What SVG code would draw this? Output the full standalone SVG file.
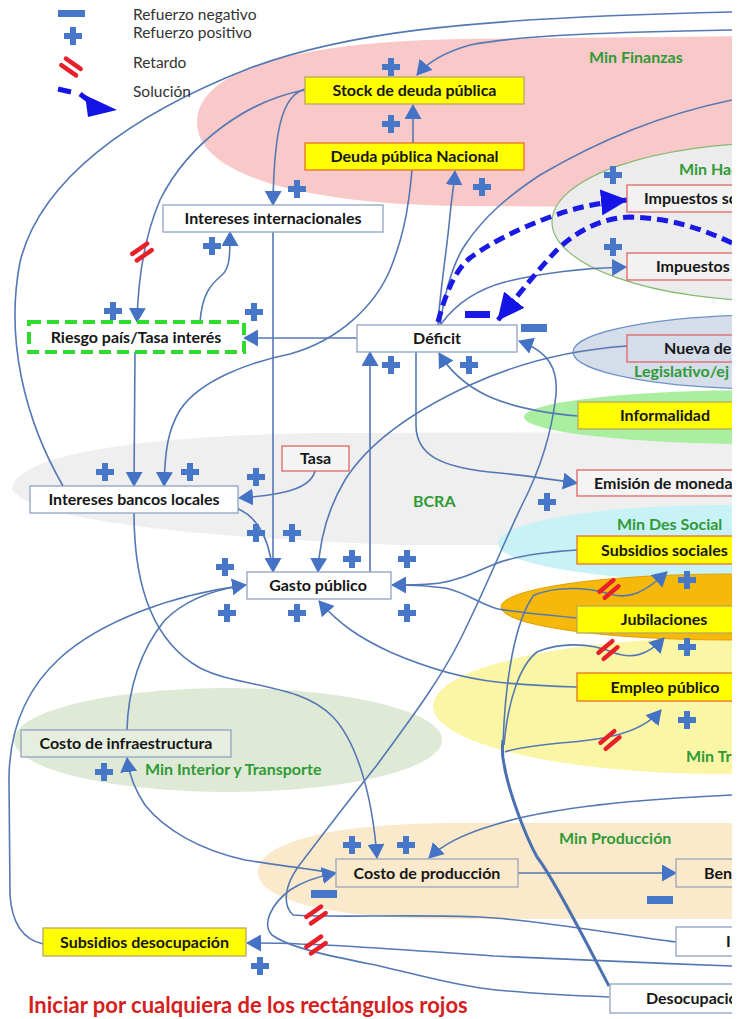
<svg xmlns="http://www.w3.org/2000/svg" xmlns:xlink="http://www.w3.org/1999/xlink" width="744" height="1019" viewBox="0 0 744 1019">
  <style>
    .ln{fill:none;stroke:#5478b4;stroke-width:1.6}
    .arr{marker-end:url(#ah)}
    .thick{fill:none;stroke:#4a70b0;stroke-width:3}
    .sol{fill:none;stroke:#1a1ae6;stroke-width:5;stroke-dasharray:11 6;marker-end:url(#solh)}
    .wbox{fill:#ffffff;stroke:#8fa2bf;stroke-width:1.3}
    .ybox{fill:#ffff00;stroke:#b9a860;stroke-width:1.3}
    .obox{fill:#ffff00;stroke:#e8702a;stroke-width:1.3}
    .rbox{fill:#ffffff;fill-opacity:.35;stroke:#e06464;stroke-width:1.3}
    .lbl{font-family:Lato,"Liberation Sans",sans-serif;font-weight:bold;font-size:16px;fill:#161616}
    .c{text-anchor:middle}
    .min{font-family:Lato,"Liberation Sans",sans-serif;font-weight:bold;font-size:16px;fill:#2f9a36}
    .leg{font-family:Lato,"Liberation Sans",sans-serif;font-size:15.5px;fill:#333}
    .ret{stroke:#e8202a;stroke-width:4.5;stroke-linecap:round}
  </style>
  <defs>
    <clipPath id="page"><rect x="0" y="0" width="732" height="1019"/></clipPath>
    <marker id="ah" viewBox="0 0 15 17" refX="14" refY="8.5" markerWidth="15" markerHeight="17" markerUnits="userSpaceOnUse" orient="auto">
      <path d="M0,0 L15,8.5 L0,17 z" fill="#4472c4"/>
    </marker>
    <marker id="solh" viewBox="0 0 27 26" refX="26" refY="13" markerWidth="27" markerHeight="26" markerUnits="userSpaceOnUse" orient="auto">
      <path d="M0,0 L27,13 L0,26 z" fill="#1414e6"/>
    </marker>
    <path id="plus" d="M-3,-9 h6 v6 h6 v6 h-6 v6 h-6 v-6 h-6 v-6 h6 z" fill="#4677c8"/>
    <rect id="minus" x="-13" y="-4" width="26" height="8" fill="#4677c8"/>
    <g id="ret" class="ret">
      <line x1="-9" y1="-4" x2="9" y2="-4"/>
      <line x1="-9" y1="4" x2="9" y2="4"/>
    </g>
  </defs>

  <g clip-path="url(#page)">
    <!-- ministry areas -->
    <g id="areas">
      <path d="M12,490 C12,455 140,436 320,433 L744,432 L744,545 L400,545 C230,538 40,525 12,490 Z" fill="#efefef"/>
      <path d="M197,122 C197,72 290,42 460,39 L744,36 L744,208 L460,206 C290,203 197,172 197,122 Z" fill="#f9c9c9"/>
      <ellipse cx="775" cy="222" rx="223" ry="79" fill="#ececec" stroke="#86b870" stroke-width="1.2"/>
      <ellipse cx="770" cy="352" rx="197" ry="37" fill="#d5dcea" stroke="#6d93c6" stroke-width="1.2"/>
      <ellipse cx="760" cy="417" rx="236" ry="27" fill="#a9ef9f"/>
      <ellipse cx="720" cy="543" rx="222" ry="38" fill="#c9f2f7"/>
      <ellipse cx="720" cy="706" rx="287" ry="68" fill="#fbf6a6"/>
      <ellipse cx="730" cy="607" rx="229" ry="33" fill="#f6b90a" stroke="#e0a000" stroke-width="1"/>
      <ellipse cx="228" cy="740" rx="214" ry="52" fill="#dfead6"/>
      <path d="M258,872 C258,845 320,824 450,823 L744,823 L744,919 L450,919 C320,918 258,898 258,872 Z" fill="#fbe9cb"/>
    </g>

    <!-- area labels -->
    <g id="area-labels">
      <text class="min" x="589" y="63">Min Finanzas</text>
      <text class="min" x="679" y="175">Min Hac</text>
      <text class="min" x="634" y="377">Legislativo/ej</text>
      <text class="min" x="413" y="507">BCRA</text>
      <text class="min" x="617" y="530">Min Des Social</text>
      <text class="min" x="686" y="762">Min Tr</text>
      <text class="min" x="145" y="775">Min Interior y Transporte</text>
      <text class="min" x="559" y="844">Min Producción</text>
    </g>

    <!-- connectors -->
    <g id="connectors">
      <path class="ln" d="M63,486 C25,420 5,340 20,262 C40,180 130,115 250,68 C340,35 450,18 732,12"/>
      <path class="ln arr" d="M732,30 C620,32 520,35 470,45 C445,52 428,62 417,75"/>
      <path class="ln arr" d="M305,90 C250,100 190,140 160,200 C145,235 138,280 137,322"/>
      <path class="ln arr" d="M305,89 C285,95 274,120 273,205"/>
      <path class="ln arr" d="M413,143 L413,105"/>
      <path class="ln arr" d="M412,170 C408,215 402,240 390,270 C375,305 340,340 290,354 C250,362 200,380 180,410 C168,430 165,450 164,486"/>
      <path class="ln arr" d="M438,325 C440,290 447,250 450,215 C452,195 454,185 455,171"/>
      <path class="ln arr" d="M357,338 L244,338"/>
      <path class="ln arr" d="M200,322 C202,295 210,285 222,275 C230,268 230,255 230,232"/>
      <path class="ln arr" d="M135,352 L134,486"/>
      <path class="ln arr" d="M315,471 C310,490 280,495 239,498"/>
      <path class="ln" d="M236,508 C255,515 268,535 272,566"/>
      <path class="ln arr" d="M273,232 L273,572"/>
      <path class="ln arr" d="M627,346 C570,350 520,362 470,385 C420,408 370,440 345,480 C333,500 320,530 318,572"/>
      <path class="ln arr" d="M370,572 L370,352"/>
      <path class="ln arr" d="M578,416 C545,413 505,406 480,392 C462,382 448,368 439,353"/>
      <path class="ln arr" d="M416,352 L416,425 C416,455 440,468 500,473 C530,476 555,480 577,483"/>
      <path class="ln arr" d="M441,324 C455,305 475,290 505,282 C545,272 590,268 626,267"/>
      <path class="ln" d="M440,325 C445,290 452,265 465,245 C485,215 510,195 540,175 C600,140 660,115 732,100"/>
      <path class="ln arr" d="M676,942 C620,935 540,920 480,917 C420,914 330,918 293,915 C282,905 285,885 298,867 C320,838 345,805 377,765 C410,720 440,680 460,640 C485,590 505,540 522,505 C540,470 552,430 556,395 C558,370 550,352 519,341"/>
      <path class="ln arr" d="M577,550 C545,552 515,556 495,564 C475,572 460,580 440,583 C425,585 410,585 392,585"/>
      <path class="ln" d="M577,618 C545,615 515,612 498,609 C480,604 465,592 445,588 C430,586 412,585 400,585"/>
      <path class="ln arr" d="M577,687 C545,686 515,684 497,682 C460,678 420,665 390,652 C360,638 340,625 319,601"/>
      <path class="ln arr" d="M43,944 C25,940 12,925 10,895 L9,780 C9,730 25,690 60,658 C100,622 170,595 246,585"/>
      <path class="ln" d="M127,730 C128,690 140,650 165,620 C185,600 215,590 240,586"/>
      <path class="ln arr" d="M134,513 C134,580 150,640 200,668 C240,688 300,683 333,717 C355,740 372,790 377,858"/>
      <path class="ln arr" d="M732,795 C620,800 540,810 494,825 C470,832 445,842 429,858"/>
      <path class="ln arr" d="M518,873 L676,873"/>
      <path class="ln arr" d="M336,873 C300,868 270,864 245,860 C200,850 165,830 145,805 C135,790 129,775 127,758"/>
      <path class="ln arr" d="M609,997 C560,995 510,992 480,988 C440,982 400,970 370,964 C330,956 290,948 272,935 C262,925 270,905 290,890 C305,880 320,876 336,873"/>
      <path class="ln arr" d="M732,966 C650,963 560,959 494,956 C420,951 340,945 300,944 C280,943 265,943 247,943"/>
      <path class="thick" d="M609,986 C590,950 555,880 537,857 C525,835 508,790 504,764 C502,755 502,748 503,740"/>
      <path class="ln arr" d="M503,745 C505,680 515,620 534,595 C560,585 590,588 610,594 C630,600 645,592 667,572"/>
      <path class="ln arr" d="M504,745 C508,700 520,665 537,652 C560,642 590,643 612,652 C632,660 648,655 664,638"/>
      <path class="ln arr" d="M505,752 C515,748 530,746 560,743 C600,740 640,735 661,710"/>
      <!-- proposed measures -->
      <path class="sol" d="M438,322 C445,295 455,270 470,258 C490,243 520,228 550,217 C575,208 595,203 627,200"/>
      <path class="sol" d="M732,243 C700,228 670,218 630,217 C600,218 575,232 555,252 C542,266 530,280 498,320"/>
    </g>

    <!-- delays -->
    <g id="delays">
      <use href="#ret" transform="translate(142,252) rotate(-35)"/>
      <use href="#ret" transform="translate(609,589) rotate(-40)"/>
      <use href="#ret" transform="translate(608,650) rotate(-40)"/>
      <use href="#ret" transform="translate(610,740) rotate(-40)"/>
      <use href="#ret" transform="translate(316,915) rotate(-35)"/>
      <use href="#ret" transform="translate(316,945) rotate(-35)"/>
    </g>

    <!-- nodes -->
    <g id="n-stock"><rect class="ybox" x="305" y="77" width="219" height="27"/><text class="lbl c" x="414.5" y="96">Stock de deuda pública</text></g>
    <g id="n-deuda"><rect class="obox" x="305" y="143" width="219" height="27"/><text class="lbl c" x="414.5" y="162">Deuda pública Nacional</text></g>
    <g id="n-intint"><rect class="wbox" x="163" y="205" width="220" height="27"/><text class="lbl c" x="273" y="224">Intereses internacionales</text></g>
    <g id="n-riesgo"><rect x="29" y="322" width="215" height="30" fill="#ffffff" stroke="#2ddc2d" stroke-width="4" stroke-dasharray="12 6"/><text class="lbl c" x="136" y="342.5">Riesgo país/Tasa interés</text></g>
    <g id="n-deficit"><rect class="wbox" x="357" y="325" width="160" height="27"/><text class="lbl c" x="437" y="344">Déficit</text></g>
    <g id="n-tasa"><rect class="rbox" x="282" y="446" width="67" height="25"/><text class="lbl c" x="315.5" y="464">Tasa</text></g>
    <g id="n-bancos"><rect class="wbox" x="30" y="486" width="208" height="27"/><text class="lbl c" x="134" y="505">Intereses bancos locales</text></g>
    <g id="n-gasto"><rect class="wbox" x="247" y="572" width="144" height="27"/><text class="lbl c" x="318" y="591">Gasto público</text></g>
    <g id="n-infra"><rect x="21" y="730" width="210" height="27" fill="#e6efdf" stroke="#8fa2bf" stroke-width="1.3"/><text class="lbl c" x="126" y="749">Costo de infraestructura</text></g>
    <g id="n-prod"><rect x="336" y="859" width="182" height="28" fill="#fbe9cb" stroke="#9aa6b8" stroke-width="1.3"/><text class="lbl c" x="427" y="878.5">Costo de producción</text></g>
    <g id="n-ben"><rect x="676" y="859" width="80" height="28" fill="#fbe9cb" stroke="#9aa6b8" stroke-width="1.3"/><text class="lbl" x="704" y="878.5">Ben</text></g>
    <g id="n-i"><rect class="wbox" x="676" y="927" width="80" height="29"/><text class="lbl" x="726" y="947">I</text></g>
    <g id="n-desoc"><rect class="wbox" x="610" y="984" width="140" height="29"/><text class="lbl" x="646" y="1004">Desocupació</text></g>
    <g id="n-subdes"><rect class="ybox" x="43" y="928" width="203" height="28"/><text class="lbl c" x="144.5" y="947.5">Subsidios desocupación</text></g>
    <g id="n-impsoc"><rect class="rbox" x="627" y="185" width="130" height="27"/><text class="lbl" x="644" y="204">Impuestos so</text></g>
    <g id="n-imp2"><rect class="rbox" x="627" y="253" width="130" height="27"/><text class="lbl" x="656" y="272">Impuestos</text></g>
    <g id="n-nueva"><rect x="627" y="335" width="130" height="27" fill="none" stroke="#e06464" stroke-width="1.3"/><text class="lbl" x="664" y="354">Nueva de</text></g>
    <g id="n-informal"><rect class="ybox" x="578" y="402" width="170" height="27"/><text class="lbl c" x="665" y="421">Informalidad</text></g>
    <g id="n-emision"><rect class="rbox" x="577" y="470" width="170" height="26"/><text class="lbl" x="594" y="488.5">Emisión de moneda</text></g>
    <g id="n-subsoc"><rect class="obox" x="577" y="536" width="170" height="28"/><text class="lbl" x="601" y="555.5">Subsidios sociales</text></g>
    <g id="n-jubil"><rect class="ybox" x="577" y="606" width="170" height="27"/><text class="lbl c" x="664" y="625">Jubilaciones</text></g>
    <g id="n-empleo"><rect class="obox" x="577" y="673" width="170" height="28"/><text class="lbl c" x="665" y="692.5">Empleo público</text></g>

    <!-- polarity signs -->
    <g id="signs">
      <use href="#plus" x="391" y="67"/>
      <use href="#plus" x="391" y="124"/>
      <use href="#plus" x="482" y="187"/>
      <use href="#plus" x="297" y="189"/>
      <use href="#plus" x="212" y="246"/>
      <use href="#plus" x="113" y="311"/>
      <use href="#plus" x="254" y="312"/>
      <use href="#plus" x="391" y="365"/>
      <use href="#plus" x="469" y="365"/>
      <use href="#plus" x="105" y="472"/>
      <use href="#plus" x="190" y="472"/>
      <use href="#plus" x="256" y="477"/>
      <use href="#plus" x="256" y="533"/>
      <use href="#plus" x="292" y="533"/>
      <use href="#plus" x="352" y="559"/>
      <use href="#plus" x="407" y="559"/>
      <use href="#plus" x="225" y="567"/>
      <use href="#plus" x="227" y="613"/>
      <use href="#plus" x="297" y="613"/>
      <use href="#plus" x="407" y="613"/>
      <use href="#plus" x="104" y="772"/>
      <use href="#plus" x="352" y="845"/>
      <use href="#plus" x="406" y="845"/>
      <use href="#plus" x="260" y="966"/>
      <use href="#plus" x="547" y="502"/>
      <use href="#plus" x="687" y="580"/>
      <use href="#plus" x="687" y="647"/>
      <use href="#plus" x="687" y="720"/>
      <use href="#plus" x="613" y="175"/>
      <use href="#plus" x="613" y="247"/>
      <use href="#minus" x="534" y="328"/>
      <use href="#minus" x="324" y="894"/>
      <use href="#minus" x="660" y="900"/>
      <rect x="465" y="311" width="25" height="7" fill="#1a1ae6"/>
    </g>

    <!-- key -->
    <g id="legend">
      <rect x="58" y="10" width="27" height="7" fill="#4677c8"/>
      <use href="#plus" x="73" y="36"/>
      <use href="#ret" transform="translate(71,67) rotate(35)"/>
      <path d="M58,89 L71,92 M80,94 L88,100" stroke="#1414e6" stroke-width="5" fill="none"/>
      <path d="M85,95 L117,110 L88,117 Z" fill="#1414e6"/>
      <text class="leg" x="133" y="20">Refuerzo negativo</text>
      <text class="leg" x="133" y="38">Refuerzo positivo</text>
      <text class="leg" x="133" y="68">Retardo</text>
      <text class="leg" x="133" y="97">Solución</text>
    </g>

    <text x="28" y="1013" font-family="Lato,'Liberation Sans',sans-serif" font-weight="bold" font-size="22" fill="#d42020">Iniciar por cualquiera de los rectángulos rojos</text>
  </g>
</svg>
